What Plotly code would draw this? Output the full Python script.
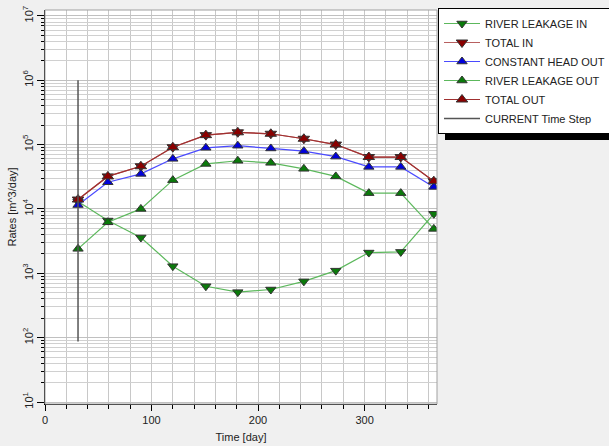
import plotly.graph_objects as go

days = [31, 59, 90, 120, 151, 181, 212, 243, 273, 304, 334, 365]
river_leakage_in = [1.3e4, 6.6e3, 3.6e3, 1.29e3, 6.3e2, 5.1e2, 5.6e2, 7.5e2, 1.1e3, 2.1e3, 2.15e3, 8.4e3]
total_in = [1.4e4, 3.2e4, 4.6e4, 9.1e4, 1.4e5, 1.55e5, 1.47e5, 1.23e5, 1.0e5, 6.4e4, 6.4e4, 2.7e4]
constant_head_out = [1.15e4, 2.6e4, 3.5e4, 6.0e4, 8.9e4, 9.6e4, 8.7e4, 7.9e4, 6.5e4, 4.5e4, 4.5e4, 2.2e4]
river_leakage_out = [2.4e3, 6.2e3, 1.0e4, 2.8e4, 5.0e4, 5.6e4, 5.2e4, 4.2e4, 3.2e4, 1.76e4, 1.76e4, 4.9e3]
total_out = [1.4e4, 3.2e4, 4.6e4, 9.1e4, 1.4e5, 1.55e5, 1.47e5, 1.23e5, 1.0e5, 6.4e4, 6.4e4, 2.7e4]
current_step_x = [31, 31]
current_step_y = [1e6, 87]

ytick_vals = [10, 100, 1e3, 1e4, 1e5, 1e6, 1e7]
ytick_text = ["10<sup>1</sup>", "10<sup>2</sup>", "10<sup>3</sup>", "10<sup>4</sup>",
              "10<sup>5</sup>", "10<sup>6</sup>", "10<sup>7</sup>"]

FONT = "Liberation Sans, Arial, sans-serif"

fig = go.Figure()

def add(name, y, line_color, marker_color, symbol, size=9):
    fig.add_trace(go.Scatter(
        x=days, y=y, name=name, mode="lines+markers",
        line=dict(color=line_color, width=1.2),
        marker=dict(symbol=symbol, size=size, color=marker_color,
                    line=dict(color="#333333", width=1)),
    ))

add("RIVER LEAKAGE IN", river_leakage_in, "#5cb85c", "#0a7a0a", "triangle-down")
add("TOTAL IN", total_in, "#b86060", "#8b0000", "triangle-down", 10)
add("CONSTANT HEAD OUT", constant_head_out, "#4a4aff", "#0000dd", "triangle-up")
add("RIVER LEAKAGE OUT", river_leakage_out, "#5cb85c", "#0a7a0a", "triangle-up")
add("TOTAL OUT", total_out, "#a03030", "#8b0000", "triangle-up", 10)
fig.add_trace(go.Scatter(
    x=current_step_x, y=current_step_y, name="CURRENT Time Step", mode="lines",
    line=dict(color="#555555", width=1.5),
))

fig.update_layout(
    width=609, height=446,
    margin=dict(l=45, r=172, t=10, b=42, autoexpand=False),
    paper_bgcolor="#f0f0f0", plot_bgcolor="white",
    font=dict(family=FONT, size=11, color="#222222"),
    showlegend=True,
    legend=dict(x=(438 - 45) / 392, y=(404 - 8) / 394, xanchor="left", yanchor="top",
                bgcolor="white", bordercolor="black", borderwidth=1,
                itemwidth=36,
                font=dict(family=FONT, size=11, color="#222222"),
                tracegroupgap=0),
    xaxis=dict(range=[0, 368], dtick=100, tick0=0, automargin=False,
               showgrid=True, gridcolor="#c8c8c8", gridwidth=1,
               ticks="outside", ticklen=6, tickcolor="black",
               showline=True, linecolor="black", zeroline=False,
               minor=dict(dtick=20, showgrid=True, gridcolor="#c8c8c8",
                          ticks="outside", ticklen=4, tickcolor="black"),
               title=dict(text="Time [day]", standoff=8,
                          font=dict(size=11))),
    yaxis=dict(type="log", range=[0.97, 7.09], automargin=False,
               tickvals=ytick_vals, ticktext=ytick_text, tickangle=-90,
               showgrid=True, gridcolor="#c0c0c0", gridwidth=1,
               ticks="outside", ticklen=7, tickcolor="black",
               showline=True, linecolor="black", zeroline=False,
               minor=dict(dtick="D1", showgrid=True, gridcolor="#d0d0d0",
                          ticks="outside", ticklen=3, tickcolor="black"),
               title=dict(text="Rates [m^3/day]", standoff=2,
                          font=dict(size=11))),
)

# plot frame
fig.add_shape(type="rect", xref="paper", yref="paper", x0=0, x1=1, y0=0, y1=1,
              line=dict(color="#a0a0a0", width=1), layer="above")
# legend shadow bar
fig.add_shape(type="rect", xref="paper", yref="paper",
              x0=(445 - 45) / 392, x1=(609 - 45) / 392,
              y0=(404 - 140) / 394, y1=(404 - 133) / 394,
              line=dict(width=0), fillcolor="black", layer="above")

fig.write_html("out.html", config={"displayModeBar": False},
               post_script="document.body.style.margin='0';document.body.style.background='#f0f0f0';")
